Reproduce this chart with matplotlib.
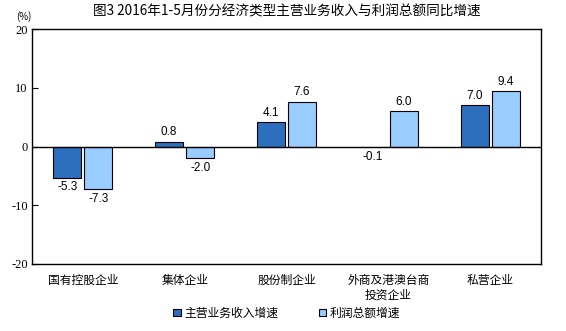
import numpy as np
import matplotlib.pyplot as plt
from matplotlib.patches import Patch

plt.rcParams['font.family'] = ['Noto Sans CJK SC', 'DejaVu Sans']

categories = ['国有控股企业', '集体企业', '股份制企业', '外商及港澳台商\n投资企业', '私营企业']
revenue = [-5.3, 0.8, 4.1, -0.1, 7.0]
profit = [-7.3, -2.0, 7.6, 6.0, 9.4]
series_names = ['主营业务收入增速', '利润总额增速']
yticks = [-20, -10, 0, 10, 20]

c1 = '#2E6EBE'
c2 = '#99CCFF'

fig = plt.figure(figsize=(5.66, 3.31), dpi=100)
ax = fig.add_axes([32/566, 1-264/331, (541-32)/566, (264-29)/331])

x = np.arange(len(categories))
w = 0.275
gap = 0.015
b1 = ax.bar(x - w/2 - gap, revenue, w, color=c1, edgecolor='black', linewidth=0.8)
b2 = ax.bar(x + w/2 + gap, profit, w, color=c2, edgecolor='black', linewidth=0.8)

for bars, vals in [(b1, revenue), (b2, profit)]:
    for b, v in zip(bars, vals):
        xc = b.get_x() + b.get_width()/2
        if v >= 0:
            ax.text(xc, v + 0.6, '%.1f' % v, ha='center', va='bottom',
                    fontsize=8.5, family='Liberation Sans')
        else:
            ax.text(xc, v - 0.6, '%.1f' % v, ha='center', va='top',
                    fontsize=8.5, family='Liberation Sans')

ax.axhline(0, color='black', linewidth=1)
ax.set_xlim(-0.5, len(categories) - 0.5)
ax.set_ylim(-20, 20)
ax.set_yticks(yticks)
ax.set_yticklabels([str(t) for t in yticks], family='Liberation Serif', fontsize=9)
ax.tick_params(axis='y', direction='in', length=4, pad=3)
ax.set_xticks(x)
ax.set_xticklabels(categories, fontsize=8.5, linespacing=1.15)
ax.tick_params(axis='x', length=0, pad=7)
for s in ax.spines.values():
    s.set_linewidth(1)

fig.text(287/566, 1-12/331, '图3 2016年1-5月份分经济类型主营业务收入与利润总额同比增速',
         ha='center', va='center', fontsize=9.8)
fig.text(16/566, 1-17/331, '(%)', ha='left', va='center', fontsize=7)

handles = [Patch(facecolor=c1, edgecolor='black', linewidth=0.8),
           Patch(facecolor=c2, edgecolor='black', linewidth=0.8)]
fig.legend(handles, series_names, loc='center', bbox_to_anchor=(287/566, 1-313/331),
           ncol=2, frameon=False, fontsize=8.5, handlelength=0.6, handleheight=0.6,
           handletextpad=0.3, columnspacing=3.5)

fig.savefig('out.png', dpi=100)
